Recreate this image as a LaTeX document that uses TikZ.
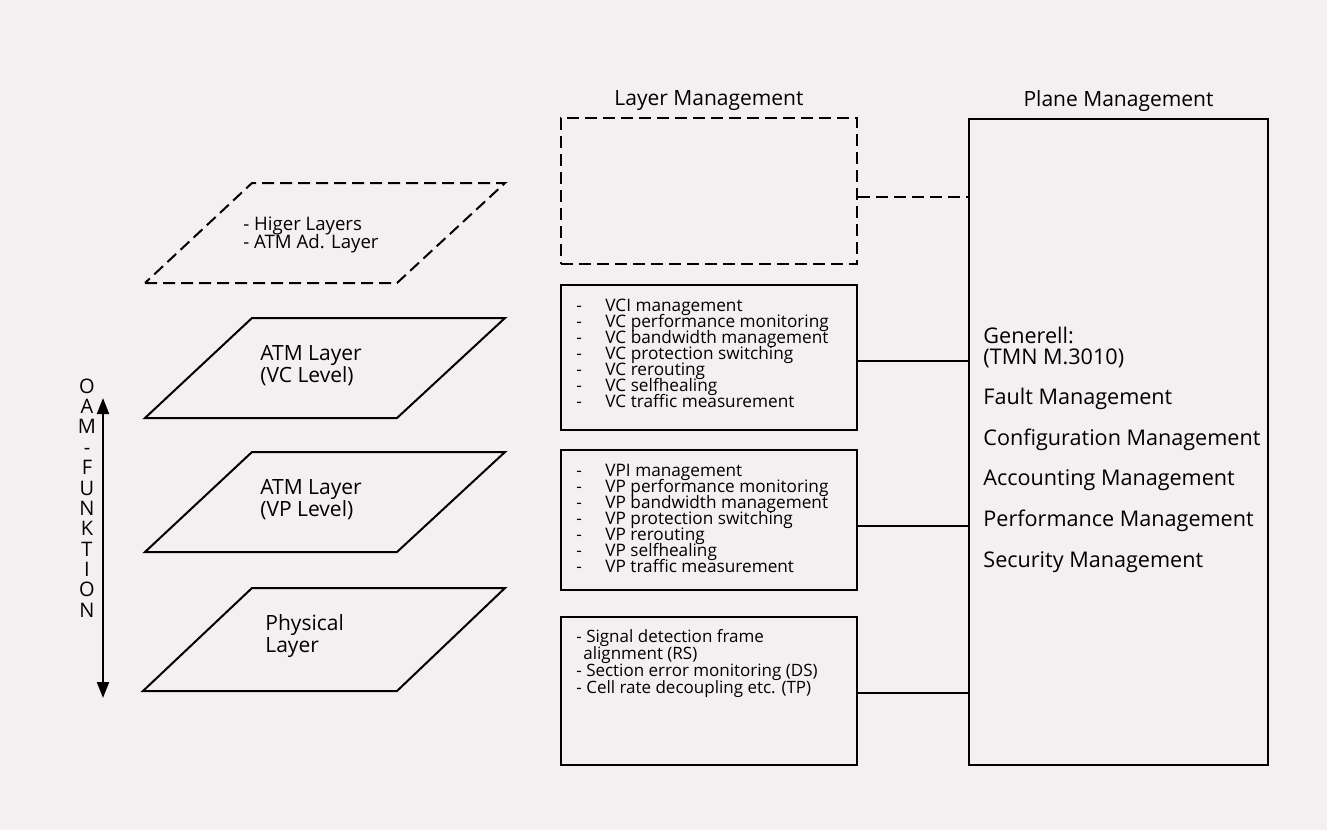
\documentclass[tikz,border=0pt]{standalone}
\usepackage{fontspec}
\setmainfont{Open Sans}
\usetikzlibrary{arrows.meta,positioning}
\definecolor{paper}{RGB}{244,239,240}
\lineskiplimit=-20pt
\tikzstyle{lmbox}=[draw,line width=1pt,minimum width=148pt,inner sep=0pt]
\tikzstyle{layer}=[line width=1pt,line join=miter]
\tikzstyle{layertext}=[anchor=west,align=left,inner sep=0pt,font=\fontsize{10.5}{11}\selectfont]
\tikzstyle{listtext}=[anchor=north west,align=left,inner sep=0pt,font=\fontsize{8.6}{8}\selectfont]
\tikzstyle{heading}=[inner sep=0pt,font=\fontsize{10.5}{12}\selectfont]
\tikzstyle{dashy}=[dash pattern=on 6pt off 3pt]
\newcommand{\itm}[1]{\makebox[14.5pt][l]{-}#1}

\begin{document}
\begin{tikzpicture}[x=0.5pt,y=-0.5pt]
% paper
\fill[paper] (0,0) rectangle (1327,830);
\useasboundingbox (0,0) rectangle (1327,830);

% layers (left)
\draw[layer,dashy] (145,283) -- (397,283) -- (505,183) -- (252,183) -- cycle;
\node[layertext,font=\fontsize{9.3}{8.6}\selectfont] (higher) at (243,235) {- Higer Layers\\- ATM Ad. Layer};
\draw[layer] (145,418) -- (397,418) -- (505,318) -- (252,318) -- cycle;
\node[layertext] (vclayer) at (260,366) {ATM Layer\\(VC Level)};
\draw[layer] (145,552) -- (397,552) -- (505,452) -- (252,452) -- cycle;
\node[layertext] (vplayer) at (260,500) {ATM Layer\\(VP Level)};
\draw[layer] (143,691) -- (397,691) -- (505,588) -- (252,588) -- cycle;
\node[layertext] (phylayer) at (265,636) {Physical\\Layer};

% OAM arrow
\coordinate (oamtop) at (103,398);
\coordinate (oambot) at (103,698);
\draw[line width=1pt,{Triangle[width=6pt,length=8pt]}-{Triangle[width=6pt,length=8pt]}] (oamtop) -- (oambot);
\node[align=center,inner sep=0pt,font=\fontsize{10}{10.18}\selectfont] (oam) at (87,498)
  {O\\A\\M\\-\\F\\U\\N\\K\\T\\I\\O\\N};

% layer management
\node[lmbox,dashy,minimum height=73pt] (lm) at (709,191) {};
\node[heading,above=3pt of lm] (lmhead) {Layer Management};
\node[lmbox,minimum height=72.5pt] (vc) at (709,357.5) {};
\node[listtext] (vctext) at (576,299) {\itm{VCI management}\\\itm{VC performance monitoring}\\
  \itm{VC bandwidth management}\\\itm{VC protection switching}\\\itm{VC rerouting}\\
  \itm{VC selfhealing}\\\itm{VC traffic measurement}};
\node[lmbox,minimum height=70pt] (vp) at (709,520) {};
\node[listtext] (vptext) at (576,464) {\itm{VPI management}\\\itm{VP performance monitoring}\\
  \itm{VP bandwidth management}\\\itm{VP protection switching}\\\itm{VP rerouting}\\
  \itm{VP selfhealing}\\\itm{VP traffic measurement}};
\node[lmbox,minimum height=74pt] (phy) at (709,691) {};
\node[listtext,font=\fontsize{8.5}{8.5}\selectfont] (phytext) at (576,629) {- Signal detection frame\\
  \hspace*{3.5pt}alignment (RS)\\- Section error monitoring (DS)\\- Cell rate decoupling etc. (TP)};

% plane management
\node[draw,line width=1pt,minimum width=149.5pt,minimum height=323pt] (plane) at (1118.5,442) {};
\node[heading,above=3pt of plane] (planehead) {Plane Management};
\node[anchor=north west,align=left,inner sep=0pt,font=\fontsize{10.8}{10.5}\selectfont] (planetext) at (983,327)
  {Generell:\\(TMN M.3010)\\[9.5pt]Fault Management\\[10pt]Configuration Management\\[9.5pt]
   Accounting Management\\[10pt]Performance Management\\[10pt]Security Management};

% connections
\draw[line width=1pt,dashy] (lm.east) ++(0,6) coordinate (lmout) -- (lmout -| plane.west);
\draw[line width=1pt] (vc.east) ++(0,3.5) coordinate (vcout) -- (vcout -| plane.west);
\draw[line width=1pt] (vp.east) ++(0,6) coordinate (vpout) -- (vpout -| plane.west);
\draw[line width=1pt] (phy.east) ++(0,2) coordinate (phyout) -- (phyout -| plane.west);
\end{tikzpicture}
\end{document}
